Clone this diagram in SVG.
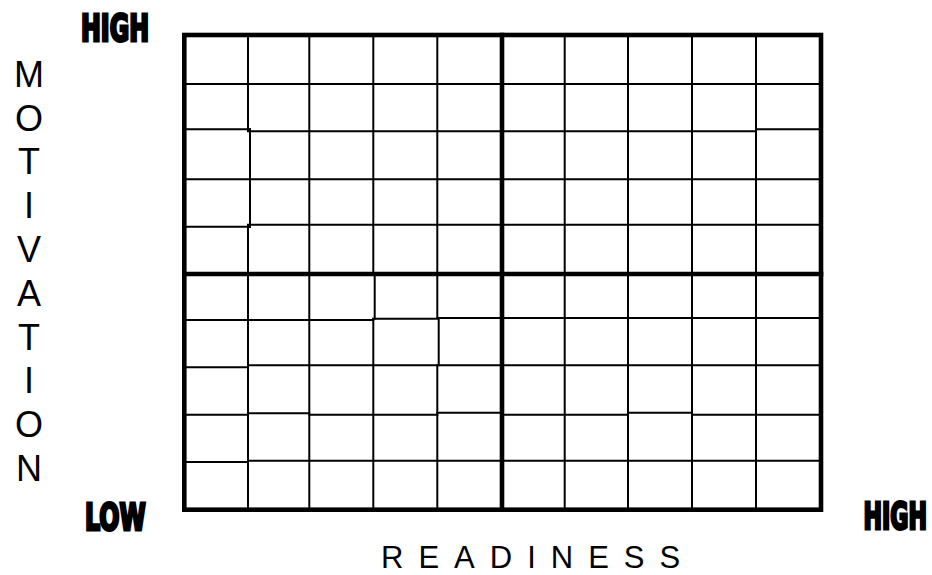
<svg xmlns="http://www.w3.org/2000/svg" width="932" height="575" viewBox="0 0 932 575">
<style>
.thin{fill:none;stroke:#000;stroke-width:2;stroke-linecap:square}
.thick{fill:none;stroke:#000;stroke-width:4.6;stroke-linecap:square;stroke-linejoin:miter}
.lbl{font-family:"DejaVu Sans Condensed","DejaVu Sans",sans-serif;font-weight:bold;font-size:23px;fill:#000;stroke:#000;stroke-width:1.8;stroke-linejoin:miter}
.axis{font-family:"Liberation Sans",Arial,sans-serif;fill:#000}
</style>
<rect width="932" height="575" fill="#fff"/>
<g id="grid">
<g id="thin-lines" class="thin">
<path d="M248 35V131.3M250 129.3V226.7M248 224.7V509.7"/>
<path d="M309.3 35V509.7"/>
<path d="M373.3 35V274M374.7 274V318.7M373.3 318.7V509.7"/>
<path d="M437.3 35V318M438.7 318V365.3M437.3 365.3V509.7"/>
<path d="M564.7 35V509.7M628 35V509.7M692 35V509.7M756 35V509.7"/>
<path d="M184 84H821"/>
<path d="M184 129.3H250M250 131.3H756M756 129.3H821"/>
<path d="M184 179.3H821"/>
<path d="M184 226.7H250M250 224.7H821"/>
<path d="M184 320H373.3M373.3 318.7H437.3M437.3 318H821"/>
<path d="M184 367.3H248M248 365.3H821"/>
<path d="M184 414.7H248M248 413.3H309.3M309.3 414.7H437.3M437.3 412.7H502M502 414.7H628M628 412.7H692M692 414.7H821"/>
<path d="M184 462H248M248 460.7H821"/>
</g>
<g id="thick-lines" class="thick">
<rect x="184.3" y="35" width="636.7" height="474.7"/>
<path d="M502 35V509.7M184.3 274H821"/>
</g>
</g>
<g id="labels">
<text class="lbl" transform="translate(81 40.6) scale(1 1.6)" textLength="68" lengthAdjust="spacingAndGlyphs">HIGH</text>
<text class="lbl" transform="translate(85 529.6) scale(1 1.6)" textLength="60.7" lengthAdjust="spacingAndGlyphs">LOW</text>
<text class="lbl" transform="translate(863.6 528.9) scale(1 1.6)" textLength="63.4" lengthAdjust="spacingAndGlyphs">HIGH</text>
</g>
<g id="y-axis" class="axis" font-size="36" text-anchor="middle">
<text x="29" y="86.7">M</text>
<text x="29" y="130.5">O</text>
<text x="29" y="174.3">T</text>
<text x="29" y="218.1">I</text>
<text x="29" y="261.9">V</text>
<text x="29" y="305.7">A</text>
<text x="29" y="349.5">T</text>
<text x="29" y="393.3">I</text>
<text x="29" y="437.1">O</text>
<text x="29" y="480.9">N</text>
</g>
<g id="x-axis" class="axis" font-size="31">
<text x="381" y="567.7" letter-spacing="15">READINESS</text>
</g>
</svg>
